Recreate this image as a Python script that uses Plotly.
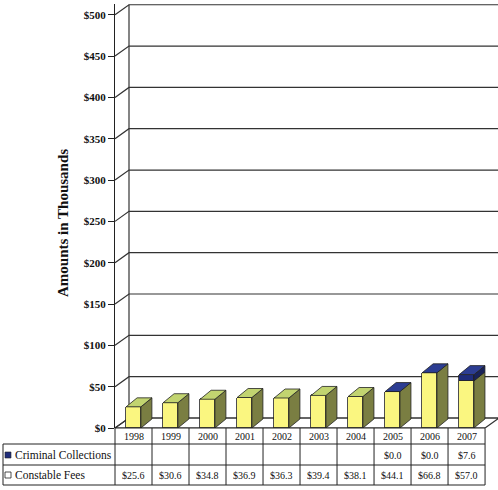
import plotly.graph_objects as go

# ---- data ----
years = ["1998", "1999", "2000", "2001", "2002", "2003", "2004", "2005", "2006", "2007"]
constable_fees = [25.6, 30.6, 34.8, 36.9, 36.3, 39.4, 38.1, 44.1, 66.8, 57.0]
criminal_collections = [None, None, None, None, None, None, None, 0.0, 0.0, 7.6]
tick_values = [0, 50, 100, 150, 200, 250, 300, 350, 400, 450, 500]
tick_labels = ["$0", "$50", "$100", "$150", "$200", "$250", "$300", "$350", "$400", "$450", "$500"]

# ---- style ----
YELLOW = "#FAF680"
YELLOW_TOP = "#C2D470"
OLIVE = "#7A7E42"
NAVY = "#1F2C7A"
NAVY_TOP = "#2C3D92"
NAVY_SIDE = "#18225A"
GRID = "#333333"
SERIF = "Liberation Serif, Times New Roman, serif"

W, H = 498, 490
L, R, T, B = 115, 0, 4, 62
XMIN, XMAX = -0.5, 9.85
YMAX = 513
plot_w = W - L - R
plot_h = H - T - B
px_x = plot_w / (XMAX - XMIN)
px_y = plot_h / YMAX

DXW, DYW = 14 / px_x, 10 / px_y      # back wall offset
BW = 0.40                            # bar front width
DXB, DYB = 11 / px_x, 9 / px_y       # bar depth


def PX(px):
    return (px - L) / plot_w


def PY(py):
    return (H - B - py) / plot_h


x = list(range(len(years)))
fig = go.Figure()

# front faces (library bars)
fig.add_trace(go.Bar(x=x, y=constable_fees, width=BW, name="Constable Fees",
                     marker=dict(color=YELLOW, line=dict(color="#222", width=0.8))))
fig.add_trace(go.Bar(x=x, y=criminal_collections, width=BW, name="Criminal Collections",
                     marker=dict(color=NAVY, line=dict(color="#222", width=0.8))))


def poly(xs, ys, color):
    fig.add_trace(go.Scatter(x=xs + [xs[0]], y=ys + [ys[0]], mode="lines", fill="toself",
                             fillcolor=color, line=dict(color="#222", width=0.8),
                             hoverinfo="skip", showlegend=False))


for i, (cf, cc) in enumerate(zip(constable_fees, criminal_collections)):
    xr = i + BW / 2
    xl = i - BW / 2
    poly([xr, xr + DXB, xr + DXB, xr], [0, DYB, cf + DYB, cf], OLIVE)
    top = cf
    top_col = YELLOW_TOP
    if cc is not None:
        if cc > 0:
            poly([xr, xr + DXB, xr + DXB, xr], [cf, cf + DYB, cf + cc + DYB, cf + cc], NAVY_SIDE)
        top = cf + cc
        top_col = NAVY_TOP
    poly([xl, xr, xr + DXB, xl + DXB], [top, top, top + DYB, top + DYB], top_col)

shapes = []
# floor
shapes.append(dict(type="path", xref="x", yref="y", layer="below",
                   path=f"M{XMIN},0 L9.5,0 L{9.5 + DXW},{DYW} L{XMIN + DXW},{DYW} Z",
                   fillcolor="white", line=dict(color=GRID, width=1.2)))
# back wall gridlines
for v in tick_values:
    shapes.append(dict(type="path", xref="x", yref="y", layer="below",
                       path=f"M{XMIN},{v} L{XMIN + DXW},{v + DYW} L{XMAX},{v + DYW}",
                       line=dict(color=GRID, width=1.2)))
shapes.append(dict(type="line", xref="x", yref="y", layer="below",
                   x0=XMIN + DXW, x1=XMIN + DXW, y0=DYW, y1=tick_values[-1] + DYW,
                   line=dict(color=GRID, width=1.2)))

# data table
col_w = px_x
col_edges = [L + col_w * k for k in range(len(years) + 1)]
right = col_edges[-1]
row_y = [428, 444, 465, 485]
line_t = dict(color="#222", width=1)
shapes.append(dict(type="line", xref="paper", yref="paper", x0=PX(L), x1=PX(right),
                   y0=PY(row_y[0]), y1=PY(row_y[0]), line=line_t))
for yy in row_y[1:]:
    shapes.append(dict(type="line", xref="paper", yref="paper", x0=PX(3), x1=PX(right),
                       y0=PY(yy), y1=PY(yy), line=line_t))
for xe in col_edges:
    shapes.append(dict(type="line", xref="paper", yref="paper", x0=PX(xe), x1=PX(xe),
                       y0=PY(row_y[0]), y1=PY(row_y[3]), line=line_t))
shapes.append(dict(type="line", xref="paper", yref="paper", x0=PX(3), x1=PX(3),
                   y0=PY(row_y[1]), y1=PY(row_y[3]), line=line_t))
# legend keys
shapes.append(dict(type="rect", xref="paper", yref="paper", x0=PX(5), x1=PX(11),
                   y0=PY(458), y1=PY(452), fillcolor=NAVY, line=dict(color="#222", width=0.6)))
shapes.append(dict(type="rect", xref="paper", yref="paper", x0=PX(5), x1=PX(11),
                   y0=PY(478), y1=PY(472), fillcolor="white", line=dict(color="#222", width=0.8)))

ann = []
tf = dict(family=SERIF, size=10, color="#111")
lf = dict(family=SERIF, size=11.5, color="#111")


def add_text(px, py, text, anchor="center", font=tf, angle=0):
    ann.append(dict(x=PX(px), y=PY(py), xref="paper", yref="paper", text=text,
                    xanchor=anchor, yanchor="middle", showarrow=False, font=font,
                    textangle=angle))


for i, yr in enumerate(years):
    cx = L + col_w * (i + 0.5)
    add_text(cx, 436, yr)
    if criminal_collections[i] is not None:
        add_text(cx, 455, f"${criminal_collections[i]:.1f}")
    add_text(cx, 475, f"${constable_fees[i]:.1f}")
add_text(13, 455, "Criminal Collections", anchor="left", font=lf)
add_text(13, 475, "Constable Fees", anchor="left", font=lf)
add_text(63, 223, "<b>Amounts in Thousands</b>",
         font=dict(family=SERIF, size=15, color="#111"), angle=-90)

fig.update_layout(
    width=W, height=H, margin=dict(l=L, r=R, t=T, b=B, autoexpand=False),
    paper_bgcolor="white", plot_bgcolor="white",
    barmode="stack", bargap=0, showlegend=False,
    shapes=shapes, annotations=ann,
    xaxis=dict(range=[XMIN, XMAX], visible=False, fixedrange=True),
    yaxis=dict(range=[0, YMAX], tickvals=tick_values,
               ticktext=[f"<b>{t}</b>" for t in tick_labels],
               showgrid=False, zeroline=False, showline=True, linecolor="#222", linewidth=1,
               ticks="outside", ticklen=6, tickcolor="#222", automargin=False,
               tickfont=dict(family=SERIF, size=11, color="#111"),
               fixedrange=True),
)

fig.write_html("out.html", config={"displayModeBar": False},
               post_script="document.body.style.margin='0';")
